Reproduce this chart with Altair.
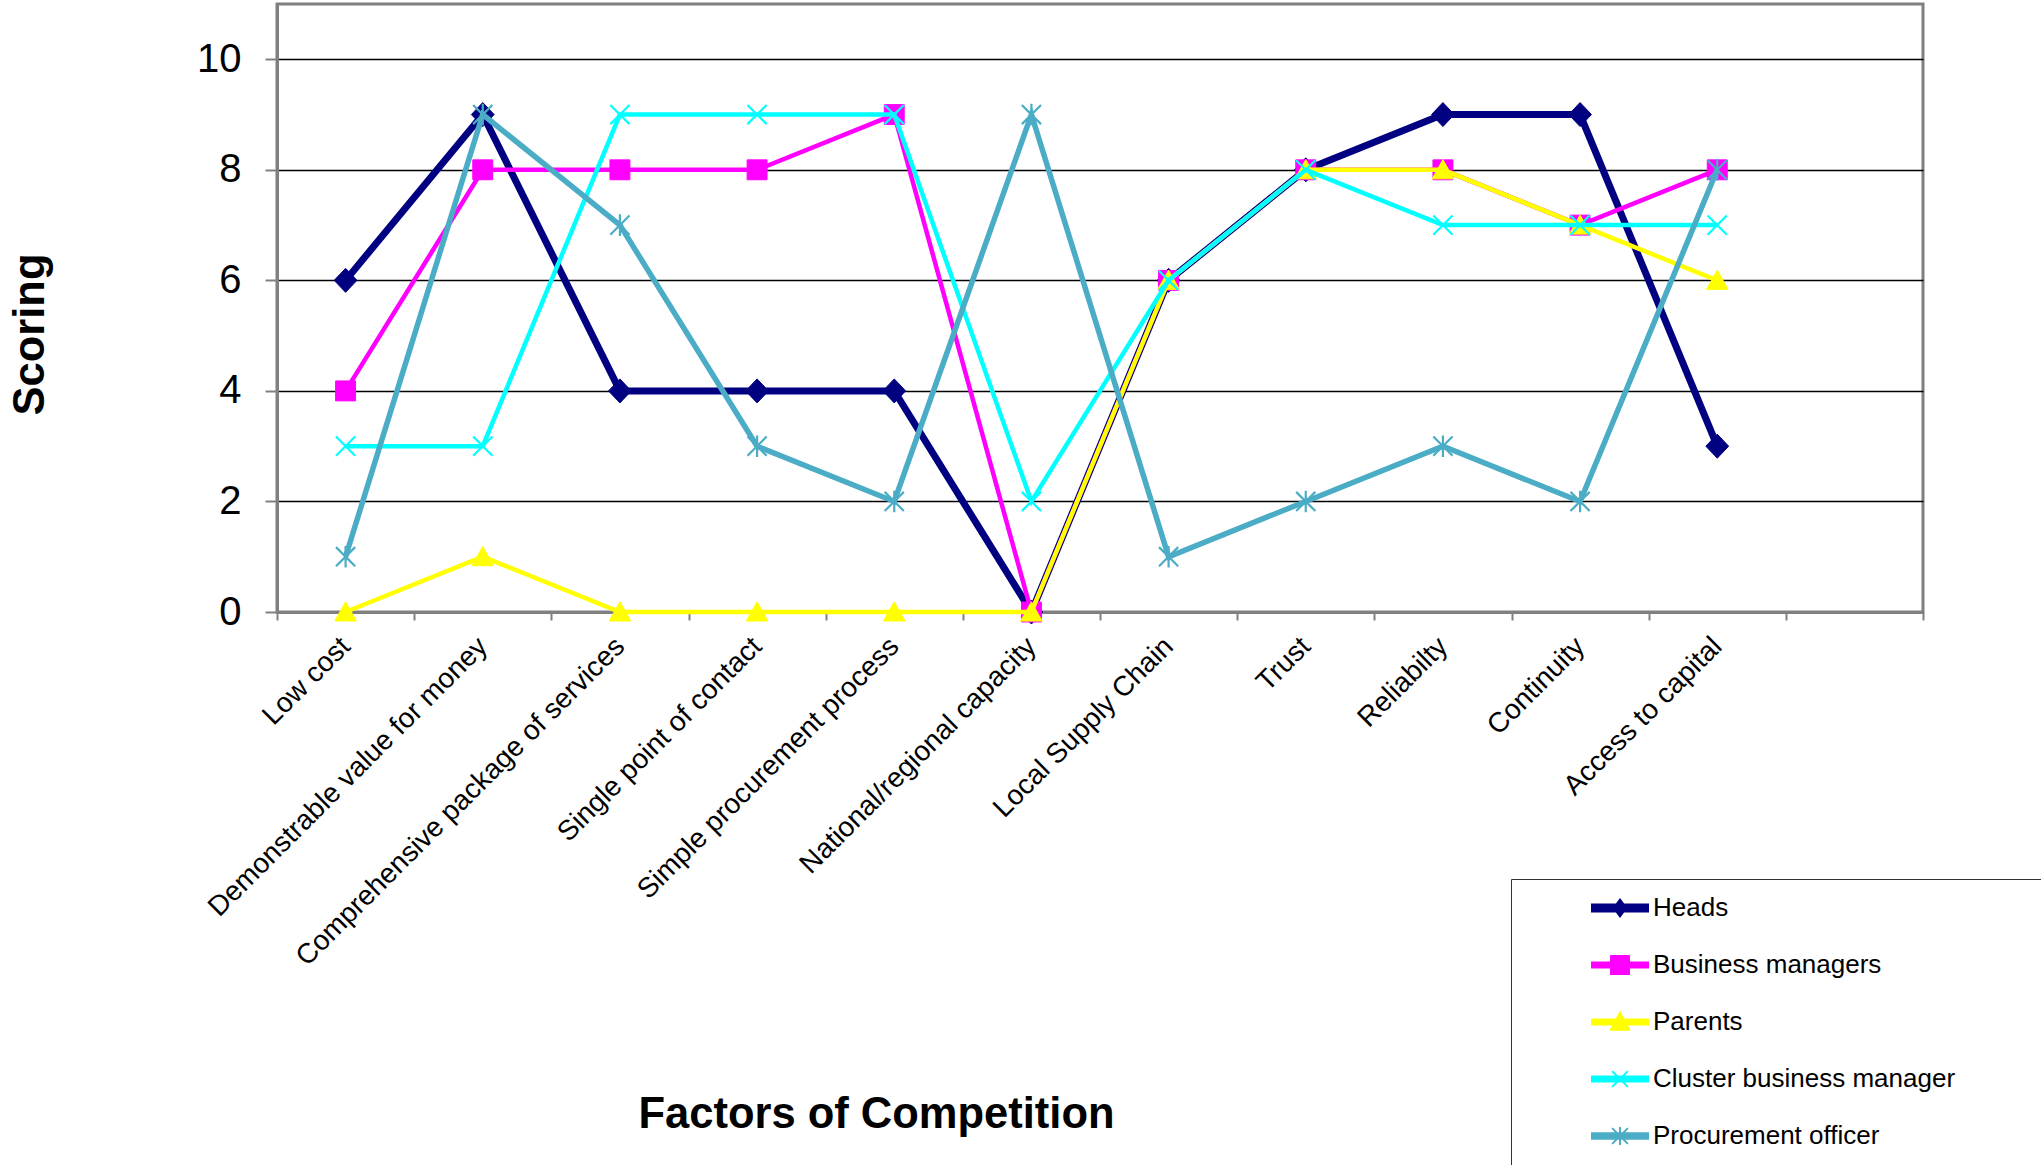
import altair as alt
import pandas as pd

categories = [
    "Low cost",
    "Demonstrable value for money",
    "Comprehensive package of services",
    "Single point of contact",
    "Simple procurement process",
    "National/regional capacity",
    "Local Supply Chain",
    "Trust",
    "Reliabilty",
    "Continuity",
    "Access to capital",
]
axis_slots = categories + [" "]

series_names = ["Heads", "Business managers", "Parents", "Cluster business manager", "Procurement officer"]
heads = [6, 9, 4, 4, 4, 0, 6, 8, 9, 9, 3]
business_managers = [4, 8, 8, 8, 9, 0, 6, 8, 8, 7, 8]
parents = [0, 1, 0, 0, 0, 0, 6, 8, 8, 7, 6]
cluster_business_manager = [3, 3, 9, 9, 9, 2, 6, 8, 7, 7, 7]
procurement_officer = [1, 9, 7, 3, 2, 9, 1, 2, 3, 2, 8]
series_values = [heads, business_managers, parents, cluster_business_manager, procurement_officer]

colors = ["#000080", "#FF00FF", "#FFFF00", "#00FFFF", "#4BACC6"]
line_widths = [7, 4.5, 4.5, 4.5, 5.5]

# marker shapes for the plot (unit coords, scaled by size)
plot_paths = [
    "M0,-1L0.95,0L0,1L-0.95,0Z",
    "M-0.83,-0.83H0.83V0.83H-0.83Z",
    "M0,-0.85L0.9,0.75H-0.9Z",
    "M-0.8,-0.8L0.8,0.8M-0.8,0.8L0.8,-0.8",
    "M-0.8,-0.8L0.8,0.8M-0.8,0.8L0.8,-0.8M0,-0.9V0.9",
]
plot_filled = [True, True, True, False, False]

# legend symbols: line segment + marker (the last one also carries two bare
# move-to points so the legend box runs past the bottom/right edges as in the original)
legend_paths = [
    "M-1,-0.125H1V0.125H-1Z M0,-0.3L0.22,0L0,0.3L-0.22,0Z",
    "M-1,-0.09H1V0.09H-1Z M-0.32,-0.32H0.32V0.32H-0.32Z",
    "M-1,-0.09H1V0.09H-1Z M0,-0.33L0.32,0.28H-0.32Z",
    "M-1,-0.09H1V0.09H-1Z M-0.28,-0.28L0.28,0.28M-0.28,0.28L0.28,-0.28",
    "M-1,-0.1H1V0.1H-1Z M-0.28,-0.28L0.28,0.28M-0.28,0.28L0.28,-0.28M0,-0.32V0.32 M16,0 M0,1.4",
]

rows = []
for name, vals in zip(series_names, series_values):
    for cat, v in zip(categories, vals):
        rows.append({"series": name, "factor": cat, "score": v})
df = pd.DataFrame(rows)

FONT = "Liberation Sans"

x_enc = alt.X(
    "factor:N",
    scale=alt.Scale(type="band", domain=axis_slots, paddingInner=0, paddingOuter=0),
    axis=alt.Axis(
        title="Factors of Competition",
        titleFont=FONT,
        titleFontSize=43.5,
        titleFontWeight="bold",
        titleColor="black",
        titleX=599,
        titleY=502,
        titleAlign="center",
        titleBaseline="middle",
        labelFont=FONT,
        labelFontSize=28,
        labelColor="black",
        labelAngle=-45,
        labelAlign="right",
        labelBaseline="middle",
        labelPadding=22,
        labelLimit=1000,
        tickBand="extent",
        tickSize=8,
        tickColor="#808080",
        tickWidth=2,
        domainColor="#808080",
        domainWidth=3,
        grid=False,
    ),
)
y_enc = alt.Y(
    "score:Q",
    scale=alt.Scale(domain=[0, 11], nice=False),
    axis=alt.Axis(
        title="Scoring",
        titleFont=FONT,
        titleFontSize=43.5,
        titleFontWeight="bold",
        titleColor="black",
        titleX=-247,
        titleY=330,
        titleAngle=270,
        titleAlign="center",
        titleBaseline="middle",
        values=[0, 2, 4, 6, 8, 10],
        labelFont=FONT,
        labelFontSize=40,
        labelColor="black",
        labelPadding=24,
        tickSize=12,
        tickColor="#808080",
        tickWidth=2,
        domainColor="#808080",
        domainWidth=3,
        grid=True,
        gridColor="#000000",
        gridWidth=1.4,
    ),
)

layers = []
for i, name in enumerate(series_names):
    base = alt.Chart(df).transform_filter(alt.datum.series == name)
    line = base.mark_line(color=colors[i], strokeWidth=line_widths[i]).encode(x=x_enc, y=y_enc)
    if plot_filled[i]:
        pts = base.mark_point(
            shape=plot_paths[i], size=576, filled=True, fill=colors[i], stroke=colors[i],
            strokeWidth=1, opacity=1,
        ).encode(x=x_enc, y=y_enc)
    else:
        pts = base.mark_point(
            shape=plot_paths[i], size=576, filled=False, stroke=colors[i], strokeWidth=2.2, opacity=1,
        ).encode(x=x_enc, y=y_enc)
    layers += [line, pts]

legend_def = alt.Legend(
    title=None,
    orient="none",
    legendX=1234,
    legendY=875,
    padding=0,
    symbolOffset=80,
    symbolSize=3136,
    symbolStrokeWidth=2,
    labelOffset=4,
    rowPadding=15,
    labelFont=FONT,
    labelFontSize=26,
    labelColor="black",
    labelLimit=2000,
    fillColor="white",
    strokeColor="#333333",
)

legend_layer = (
    alt.Chart(df)
    .transform_filter("datum.score < -100")
    .mark_point(filled=True, opacity=1)
    .encode(
        color=alt.Color("series:N", scale=alt.Scale(domain=series_names, range=colors), legend=legend_def),
        stroke=alt.Stroke("series:N", scale=alt.Scale(domain=series_names, range=colors), legend=legend_def),
        shape=alt.Shape("series:N", scale=alt.Scale(domain=series_names, range=legend_paths), legend=legend_def),
    )
)

chart = (
    alt.layer(*layers, legend_layer)
    .properties(
        width=1646,
        height=608,
        autosize=alt.AutoSizeParams(type="none"),
        padding={"left": 277, "top": 4, "right": 118, "bottom": 553},
        background="white",
    )
    .configure_view(fill="#C0C0C0", stroke="#808080", strokeWidth=3)
)

chart.save("out.html", embed_options={"renderer": "svg", "actions": False})
